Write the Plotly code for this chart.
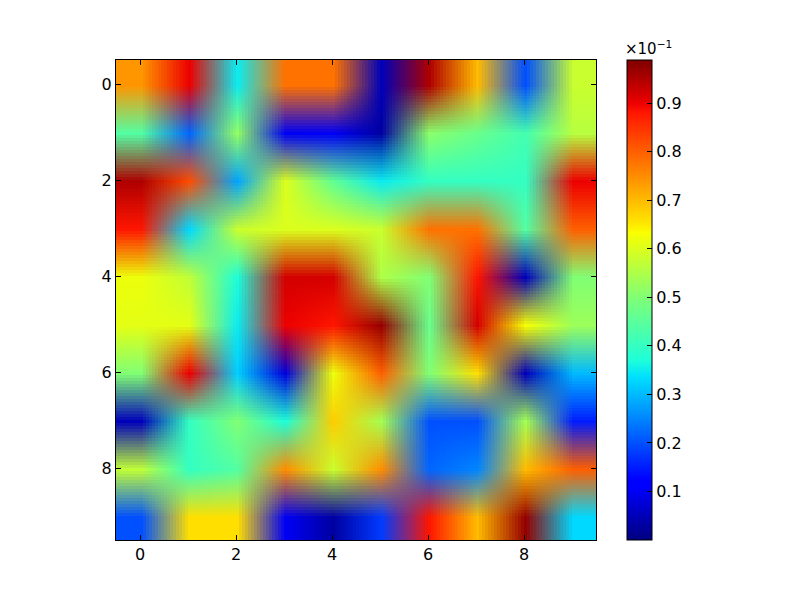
import plotly.graph_objects as go

# values, one list per row (top to bottom)
row_0 = [0.74, 0.90, 0.35, 0.78, 0.78, 0.05, 0.95, 0.70, 0.20, 0.58]
row_1 = [0.44, 0.22, 0.52, 0.10, 0.10, 0.03, 0.51, 0.47, 0.42, 0.56]
row_2 = [0.95, 0.82, 0.28, 0.60, 0.46, 0.35, 0.40, 0.40, 0.40, 0.90]
row_3 = [0.88, 0.33, 0.58, 0.60, 0.60, 0.58, 0.78, 0.78, 0.44, 0.80]
row_4 = [0.62, 0.57, 0.37, 0.92, 0.92, 0.55, 0.50, 0.88, 0.05, 0.50]
row_5 = [0.61, 0.61, 0.35, 0.90, 0.88, 0.97, 0.47, 0.92, 0.63, 0.53]
row_6 = [0.50, 0.90, 0.32, 0.08, 0.62, 0.80, 0.50, 0.66, 0.05, 0.30]
row_7 = [0.05, 0.40, 0.50, 0.37, 0.68, 0.54, 0.20, 0.20, 0.54, 0.15]
row_8 = [0.57, 0.40, 0.44, 0.75, 0.58, 0.75, 0.22, 0.25, 0.70, 0.80]
row_9 = [0.20, 0.66, 0.66, 0.10, 0.03, 0.18, 0.88, 0.70, 0.97, 0.33]
values = [row_0, row_1, row_2, row_3, row_4, row_5, row_6, row_7, row_8, row_9]

axis_ticks = [0, 2, 4, 6, 8]
cbar_ticks = [0.1, 0.2, 0.3, 0.4, 0.5, 0.6, 0.7, 0.8, 0.9]

# matplotlib jet
jet = [
    [0.0, '#00007f'], [0.11, '#0000ff'], [0.125, '#0000ff'], [0.34, '#00e0ff'],
    [0.375, '#1effd8'], [0.5, '#7cff79'], [0.64, '#f9ff00'], [0.66, '#ffe600'],
    [0.89, '#ff1600'], [0.91, '#ed0000'], [1.0, '#7f0000'],
]

fig = go.Figure()
fig.add_trace(
    go.Heatmap(
        z=values,
        zsmooth='fast',  # browser stretches the 10x10 image, blends in rgb like the original
        zmin=0.0,
        zmax=0.989,
        colorscale=jet,
        colorbar=dict(
            thickness=25,
            thicknessmode='pixels',
            len=480,
            lenmode='pixels',
            x=511 / 480,
            xanchor='left',
            y=0.5,
            yanchor='middle',
            xpad=0,
            ypad=0,
            outlinecolor='black',
            outlinewidth=1,
            ticks='inside',
            ticklen=5,
            tickcolor='black',
            tickvals=cbar_ticks,
            tickformat='.1f',
            tickfont=dict(family='DejaVu Sans', size=16, color='black'),
        ),
    )
)

fig.update_layout(
    width=784,
    height=584,
    margin=dict(l=108, r=196, t=52, b=52),
    paper_bgcolor='white',
    plot_bgcolor='white',
    font=dict(family='DejaVu Sans', size=16, color='black'),
    xaxis=dict(
        range=[-0.5, 9.5], tickvals=axis_ticks, ticks='inside', ticklen=5,
        tickcolor='black', showgrid=False, zeroline=False, showline=True,
        linecolor='black', linewidth=1, mirror='ticks',
    ),
    yaxis=dict(
        range=[9.5, -0.5], tickvals=axis_ticks, ticks='inside', ticklen=5,
        tickcolor='black', showgrid=False, zeroline=False, showline=True,
        linecolor='black', linewidth=1, mirror='ticks',
    ),
    annotations=[
        dict(
            text='×10<sup>−1</sup>', xref='paper', yref='paper', x=507 / 480,
            y=1.0, xanchor='left', yanchor='bottom', showarrow=False,
            font=dict(family='DejaVu Sans', size=15),
        )
    ],
)

fig.write_html("out.html")
